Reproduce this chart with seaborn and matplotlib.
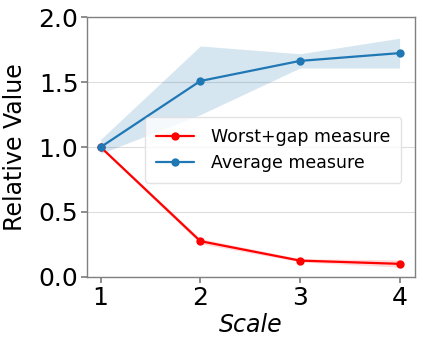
import numpy as np
import pandas as pd
import seaborn as sns
import matplotlib.pyplot as plt

# dados
scale = [1, 2, 3, 4]
worst_gap = [1.0, 0.275, 0.125, 0.10]
worst_gap_lo = [0.99, 0.255, 0.115, 0.075]
worst_gap_hi = [1.01, 0.295, 0.14, 0.13]
average = [1.0, 1.51, 1.665, 1.725]
average_lo = [0.95, 1.25, 1.61, 1.61]
average_hi = [1.06, 1.78, 1.72, 1.84]

sns.set_theme(style="whitegrid")
plt.rcParams['font.family'] = ['DejaVu Sans']

df = pd.DataFrame({
    'Scale': scale * 2,
    'value': worst_gap + average,
    'measure': ['Worst+gap measure'] * 4 + ['Average measure'] * 4,
})

fig, ax = plt.subplots(figsize=(4.23, 3.49), dpi=100)
palette = {'Worst+gap measure': 'red', 'Average measure': '#1f77b4'}
sns.lineplot(data=df, x='Scale', y='value', hue='measure', palette=palette,
             marker='o', markersize=6, markeredgewidth=0, linewidth=1.6, ax=ax)
ax.fill_between(scale, worst_gap_lo, worst_gap_hi, color='red', alpha=0.15, linewidth=0)
ax.fill_between(scale, average_lo, average_hi, color='#1f77b4', alpha=0.18, linewidth=0)

ax.set_xlim(0.86, 4.15)
ax.set_ylim(-0.005, 2.0)
ax.set_xticks(scale)
ax.set_yticks([0.0, 0.5, 1.0, 1.5, 2.0])
ax.yaxis.set_major_formatter(plt.FormatStrFormatter('%.1f'))
ax.grid(axis='x', visible=False)
ax.grid(axis='y', color='#dddddd', linewidth=0.8)
ax.tick_params(axis='both', labelsize=18, length=4, color='gray', labelcolor='black',
               pad=2, bottom=True, left=True)
for s in ax.spines.values():
    s.set_color('gray')
    s.set_linewidth(1.0)
ax.set_xlabel('Scale', fontsize=17, style='italic', labelpad=2, color='black')
ax.set_ylabel('Relative Value', fontsize=17, labelpad=8, color='black')

leg = ax.legend(loc='center right', bbox_to_anchor=(0.975, 0.49), fontsize=12.5,
                frameon=True, handlelength=2.2, handletextpad=1.0,
                borderpad=0.6, borderaxespad=0.3, labelspacing=0.5)
leg.get_frame().set_edgecolor('#dddddd')
for t in leg.get_texts():
    t.set_color('black')

fig.subplots_adjust(left=0.205, right=0.98, top=0.95, bottom=0.205)
plt.savefig('out.png', dpi=100)
